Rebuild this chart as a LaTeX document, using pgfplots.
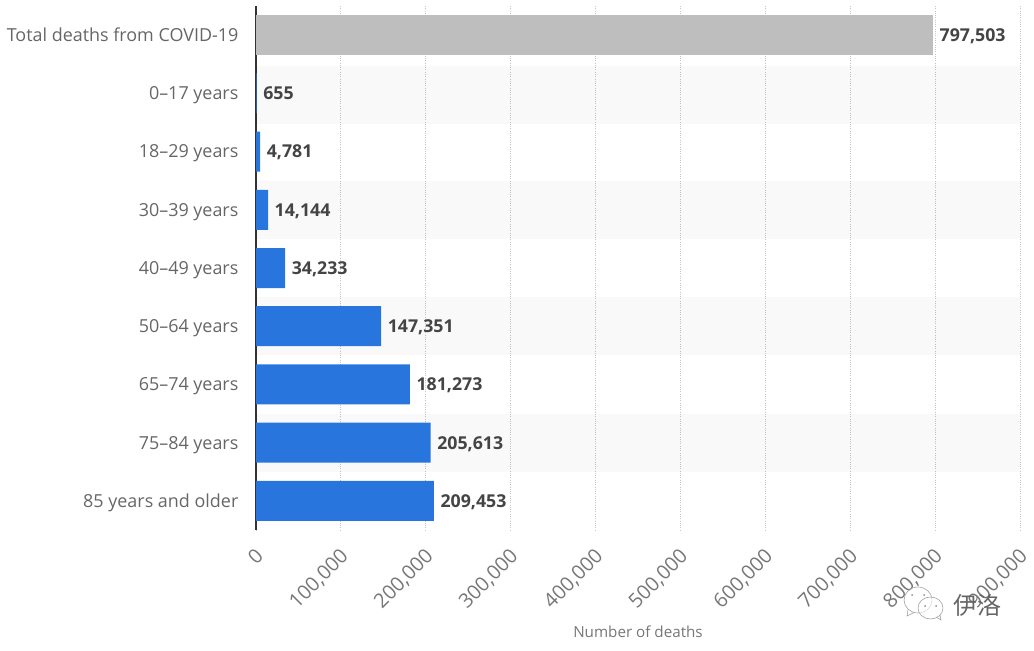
\documentclass[border=0pt]{standalone}
\usepackage{pgfplots}
\pgfplotsset{compat=1.18}
\usepackage{fontspec}
\setmainfont{Open Sans}
\newfontfamily\cjk{Noto Sans CJK SC}
\definecolor{barblue}{HTML}{2875DE}
\definecolor{bargray}{HTML}{BEBEBE}
\definecolor{lab}{HTML}{666666}
\definecolor{xlab}{HTML}{777777}
\definecolor{val}{HTML}{444444}
\definecolor{gridc}{HTML}{C4C4C4}
\pgfplotstableread{
pos value
1 655
2 4781
3 14144
4 34233
5 147351
6 181273
7 205613
8 209453
}\agegroups
\pgfplotstableread{
pos value
0 797503
}\totaldeaths
\pgfkeys{/pgf/number format/.cd,fixed,precision=0,1000 sep={,},assume math mode=true}
\begin{document}
\begin{tikzpicture}
\path[use as bounding box] (0pt,0pt) rectangle (775.5pt,487.5pt);
\begin{axis}[
  at={(192pt,90pt)}, anchor=south west,
  scale only axis, width=573pt, height=393pt,
  xmin=0, xmax=900000, ymin=-0.5, ymax=8.5, y dir=reverse,
  xbar, bar width=30pt,
  xtick={0,100000,...,900000},
  ytick={0,...,8},
  yticklabels={Total deaths from COVID-19,0--17 years,18--29 years,30--39 years,40--49 years,50--64 years,65--74 years,75--84 years,85 years and older},
  scaled x ticks=false,
  axis x line*=bottom, axis y line*=left,
  x axis line style={draw=none},
  y axis line style={draw=black!80, line width=1.1pt, -},
  major tick length=0pt,
  xmajorgrids, major x grid style={gridc, line width=0.7pt, densely dotted},
  tick label style={font=\fontsize{13.45pt}{15pt}\selectfont, text=lab},
  xticklabel style={font=\fontsize{15pt}{17pt}\selectfont, text=xlab, rotate=45, anchor=north east, xshift=-6.5pt, yshift=-4.5pt},
  yticklabel style={xshift=-9.7pt, text height=9.6pt, text depth=0pt},
  xlabel={Number of deaths},
  xlabel style={font=\fontsize{11.4pt}{13pt}\selectfont, text=xlab, at={(axis description cs:0.5,0)}, anchor=north, yshift=-68pt},
  nodes near coords, point meta=x,
  nodes near coords style={font=\bfseries\fontsize{13.3pt}{15pt}\selectfont, text=val, anchor=west, xshift=1.5pt, text height=9.6pt, text depth=0pt},
  clip=false,
]
\fill[black, opacity=0.024] (axis cs:0,0.53) rectangle (axis cs:900000,1.53);
\fill[black, opacity=0.024] (axis cs:0,2.5) rectangle (axis cs:900000,3.5);
\fill[black, opacity=0.024] (axis cs:0,4.5) rectangle (axis cs:900000,5.5);
\fill[black, opacity=0.024] (axis cs:0,6.5) rectangle (axis cs:900000,7.5);
\addplot[fill=bargray, draw=none, bar shift=0pt] table[x=value,y=pos] {\totaldeaths};
\addplot[fill=barblue, draw=none, bar shift=0pt] table[x=value,y=pos] {\agegroups};
\end{axis}
% WeChat watermark
\begin{scope}[x=0.75pt,y=0.75pt,draw=black!40, line width=0.4pt]
\draw[fill=white, fill opacity=0.6] (918,50) ellipse (14 and 13);
\draw[fill=white, fill opacity=0.6] (930.5,42) ellipse (12.5 and 11);
\fill[black!45] (912,55) circle (1) (924,55) circle (1) (925,44) circle (1) (936,44) circle (1);
\draw (908,40) -- (907,34) -- (914,37.5);
\draw (937,32.5) -- (941,30) -- (940,35);
\end{scope}
\node[anchor=center, text=black!60, font=\cjk\fontsize{18pt}{20pt}\selectfont] at (732.75pt,33.75pt) {伊洛};
\end{tikzpicture}
\end{document}
